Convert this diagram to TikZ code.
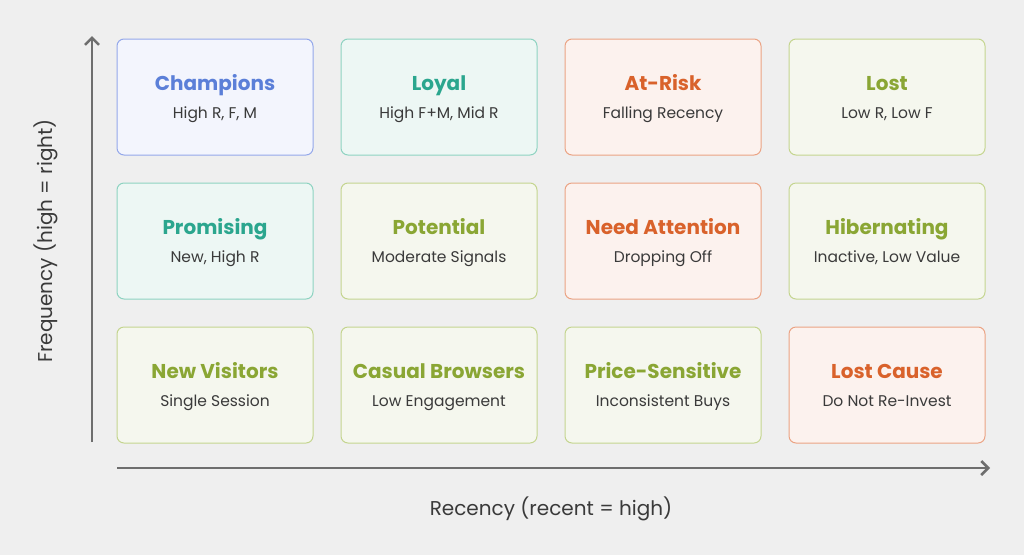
\documentclass[tikz,border=0pt]{standalone}
\usepackage{fontspec}
\setmainfont{Poppins}
\usetikzlibrary{arrows.meta}
\definecolor{bg}{HTML}{EFEFEF}
\definecolor{bT}{HTML}{5B7FD8}\definecolor{bF}{HTML}{F3F5FD}\definecolor{bB}{HTML}{94A8EA}
\definecolor{tT}{HTML}{2BA68E}\definecolor{tF}{HTML}{EDF7F4}\definecolor{tB}{HTML}{8ED3C1}
\definecolor{oT}{HTML}{D9622B}\definecolor{oF}{HTML}{FCF2EE}\definecolor{oB}{HTML}{EBA384}
\definecolor{gT}{HTML}{8AA634}\definecolor{gF}{HTML}{F5F7EE}\definecolor{gB}{HTML}{C4D58F}
\definecolor{sub}{HTML}{3A3A3A}\definecolor{ax}{HTML}{6E6E6E}
\begin{document}
\begin{tikzpicture}[x=1pt,y=-1pt,
 cell/.style n args={3}{draw=#3,fill=#2,rounded corners=7pt,line width=1pt,minimum width=196pt,minimum height=116pt,inner sep=0pt},
 ttl/.style={anchor=base,font=\fontsize{20}{22}\selectfont\bfseries},
 sb/.style={anchor=base,font=\fontsize{15.5}{18}\selectfont,text=sub},
 axl/.style={font=\fontsize{20}{22}\selectfont,text=sub}]
\fill[bg] (0,0) rectangle (1024,555);
\useasboundingbox (0,0) rectangle (1024,555);
\newcommand\cellx[7]{%
 \node[cell={}{#4}{#5}] (#1) at (#2,#3) {};
 \node[ttl,text=#6] (#1t) at (#2,#3-7) {#7};}
\def\cxa{215}\def\cxb{439}\def\cxc{663}\def\cxd{887}
\def\rya{97}\def\ryb{241}\def\ryc{385}
\cellx{c11}{\cxa}{\rya}{bF}{bB}{bT}{Champions}
\cellx{c12}{\cxb}{\rya}{tF}{tB}{tT}{Loyal}
\cellx{c13}{\cxc}{\rya}{oF}{oB}{oT}{At-Risk}
\cellx{c14}{\cxd}{\rya}{gF}{gB}{gT}{Lost}
\cellx{c21}{\cxa}{\ryb}{tF}{tB}{tT}{Promising}
\cellx{c22}{\cxb}{\ryb}{gF}{gB}{gT}{Potential}
\cellx{c23}{\cxc}{\ryb}{oF}{oB}{oT}{Need Attention}
\cellx{c24}{\cxd}{\ryb}{gF}{gB}{gT}{Hibernating}
\cellx{c31}{\cxa}{\ryc}{gF}{gB}{gT}{New Visitors}
\cellx{c32}{\cxb}{\ryc}{gF}{gB}{gT}{Casual Browsers}
\cellx{c33}{\cxc}{\ryc}{gF}{gB}{gT}{Price-Sensitive}
\cellx{c34}{\cxd}{\ryc}{oF}{oB}{oT}{Lost Cause}
\node[sb] (s11) at (\cxa,\rya+21) {High R, F, M};
\node[sb] (s12) at (\cxb,\rya+21) {High F+M, Mid R};
\node[sb] (s13) at (\cxc,\rya+21) {Falling Recency};
\node[sb] (s14) at (\cxd,\rya+21) {Low R, Low F};
\node[sb] (s21) at (\cxa,\ryb+21) {New, High R};
\node[sb] (s22) at (\cxb,\ryb+21) {Moderate Signals};
\node[sb] (s23) at (\cxc,\ryb+21) {Dropping Off};
\node[sb] (s24) at (\cxd,\ryb+21) {Inactive, Low Value};
\node[sb] (s31) at (\cxa,\ryc+21) {Single Session};
\node[sb] (s32) at (\cxb,\ryc+21) {Low Engagement};
\node[sb] (s33) at (\cxc,\ryc+21) {Inconsistent Buys};
\node[sb] (s34) at (\cxd,\ryc+21) {Do Not Re-Invest};
\coordinate (v0) at (92,442);\coordinate (v1) at (92,36);
\coordinate (h0) at (117,468);\coordinate (h1) at (990,468);
\draw[ax,line width=2.5pt,-{Straight Barb[length=7pt,width=14pt]}] (v0) -- (v1);
\draw[ax,line width=2.5pt,-{Straight Barb[length=7pt,width=14pt]}] (h0) -- (h1);
\node[axl,rotate=90] (yl) at (46,241) {Frequency (high = right)};
\node[axl] (xl) at (551,509) {Recency (recent = high)};
\end{tikzpicture}
\end{document}
